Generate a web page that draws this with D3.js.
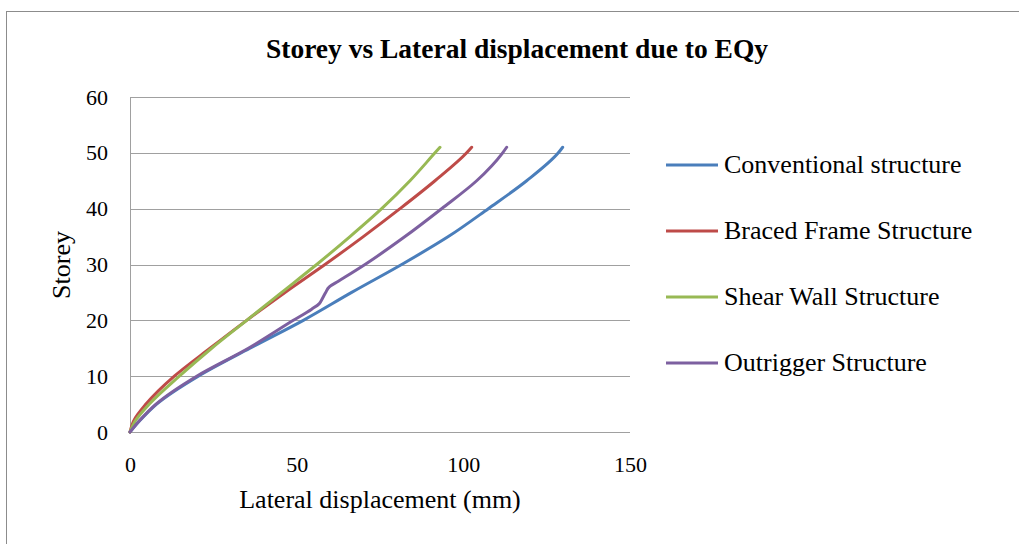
<!DOCTYPE html>
<html>
<head>
<meta charset="utf-8">
<script src="https://cdn.jsdelivr.net/npm/d3@7"></script>
<style>
  body { margin: 0; background: #fff; }
  svg text { font-family: "Liberation Serif", "Times New Roman", serif; fill: #000; }
</style>
</head>
<body>
<div id="chart"></div>
<script>
// chart size
width = 1019;
height = 544;
margin = ({top: 97, right: 389, bottom: 112, left: 130});
const serif = "'Liberation Serif', 'Times New Roman', serif";

// data
const storeys = [0, 2, 5, 10, 15, 20, 25, 30, 35, 40, 45, 50, 51];
const conventional = [0, 2.9, 8, 20.5, 36, 52, 66.5, 81.5, 95.5, 107.5, 119, 128.5, 129.8];
const braced = [0, 1.1, 4.8, 13.3, 24, 35, 46.5, 58.5, 70, 81, 91.5, 101, 102.5];
const shearWall = [0, 1.6, 5.8, 14.8, 24.5, 35, 45.5, 56, 66, 75.5, 84, 91.5, 93];
const outriggerStoreys = [0, 2, 5, 10, 15, 20, 22, 23, 24, 25, 26, 27, 30, 35, 40, 45, 50, 51];
const outrigger = [0, 2.8, 7.8, 20, 35.5, 49, 54.5, 56.8, 57.8, 58.7, 59.8, 62.5, 70.5, 82.5, 93.5, 104, 111.8, 113];

const seriesNames = ["Conventional structure", "Braced Frame Structure", "Shear Wall Structure", "Outrigger Structure"];
const seriesColors = ["#4a7ebb", "#be4b48", "#98b954", "#7d60a0"];
const xTicks = [0, 50, 100, 150];
const yTicks = [0, 10, 20, 30, 40, 50, 60];

const series = [
  storeys.map((s, i) => ({x: conventional[i], y: s})),
  storeys.map((s, i) => ({x: braced[i], y: s})),
  storeys.map((s, i) => ({x: shearWall[i], y: s})),
  outriggerStoreys.map((s, i) => ({x: outrigger[i], y: s}))
];

let xScale = d3.scaleLinear()
    .domain([0, 150])
    .range([margin.left, width - margin.right]);
let yScale = d3.scaleLinear()
    .domain([0, 60])
    .range([height - margin.bottom, margin.top]);

const svg = d3.select("#chart").append("svg")
    .attr("width", width).attr("height", height);

// outer chart border (cut off at right and bottom)
svg.append("rect")
    .attr("x", 6.5).attr("y", 11.5)
    .attr("width", 1100).attr("height", 700)
    .attr("fill", "none").attr("stroke", "#8c8c8c").attr("stroke-width", 1);

// title
svg.append("text")
    .attr("x", 517).attr("y", 58)
    .attr("text-anchor", "middle")
    .style("font-family", serif)
    .style("font-size", "27.5px").style("font-weight", "bold")
    .text("Storey vs Lateral displacement due to EQy");

// gridlines
svg.append("g").attr("id", "grid")
    .attr("transform", `translate(${margin.left},0)`)
    .call(d3.axisLeft(yScale).tickValues(yTicks).tickSize(-(width - margin.left - margin.right)).tickFormat(""))
    .call(g => g.select(".domain").remove())
    .call(g => g.selectAll("line").attr("stroke", "#a0a0a0").attr("shape-rendering", "crispEdges"));

// y axis
svg.append("g").attr("id", "y_axis")
    .attr("transform", `translate(${margin.left},0)`)
    .call(d3.axisLeft(yScale).tickValues(yTicks).tickSize(0).tickPadding(22))
    .call(g => g.select(".domain").attr("stroke", "#a0a0a0").attr("shape-rendering", "crispEdges"))
    .call(g => g.selectAll("text").style("font-family", serif).style("font-size", "22px"));

// x axis
svg.append("g").attr("id", "x_axis")
    .attr("transform", `translate(0,${height - margin.bottom})`)
    .call(d3.axisBottom(xScale).tickValues(xTicks).tickSize(0).tickPadding(24))
    .call(g => g.select(".domain").remove())
    .call(g => g.selectAll("text").style("font-family", serif).style("font-size", "22px"));

// axis labels
svg.append("text").attr("id", "x_label")
    .attr("x", 380).attr("y", 508)
    .style("text-anchor", "middle")
    .style("font-family", serif).style("font-size", "26px")
    .text("Lateral displacement (mm)");

svg.append("text").attr("id", "y_label")
    .attr("transform", "translate(70,265) rotate(-90)")
    .style("text-anchor", "middle")
    .style("font-family", serif).style("font-size", "26px")
    .text("Storey");

// lines
let line = d3.line()
    .x(d => xScale(d.x))
    .y(d => yScale(d.y))
    .curve(d3.curveMonotoneY);

svg.append("g").selectAll("path")
    .data(series)
    .enter().append("path")
    .attr("d", line)
    .attr("fill", "none")
    .attr("stroke", (d, i) => seriesColors[i])
    .attr("stroke-width", 3)
    .attr("stroke-linecap", "round");

// legend
let legend = svg.append("g").selectAll("g")
    .data(seriesNames)
    .enter().append("g")
    .attr("transform", (d, i) => `translate(666,${165 + i * 66})`);

legend.append("line")
    .attr("x1", 0).attr("x2", 52)
    .attr("stroke", (d, i) => seriesColors[i])
    .attr("stroke-width", 3);

legend.append("text")
    .attr("x", 58).attr("y", 8)
    .style("font-family", serif).style("font-size", "26px")
    .text(d => d);
</script>
</body>
</html>
